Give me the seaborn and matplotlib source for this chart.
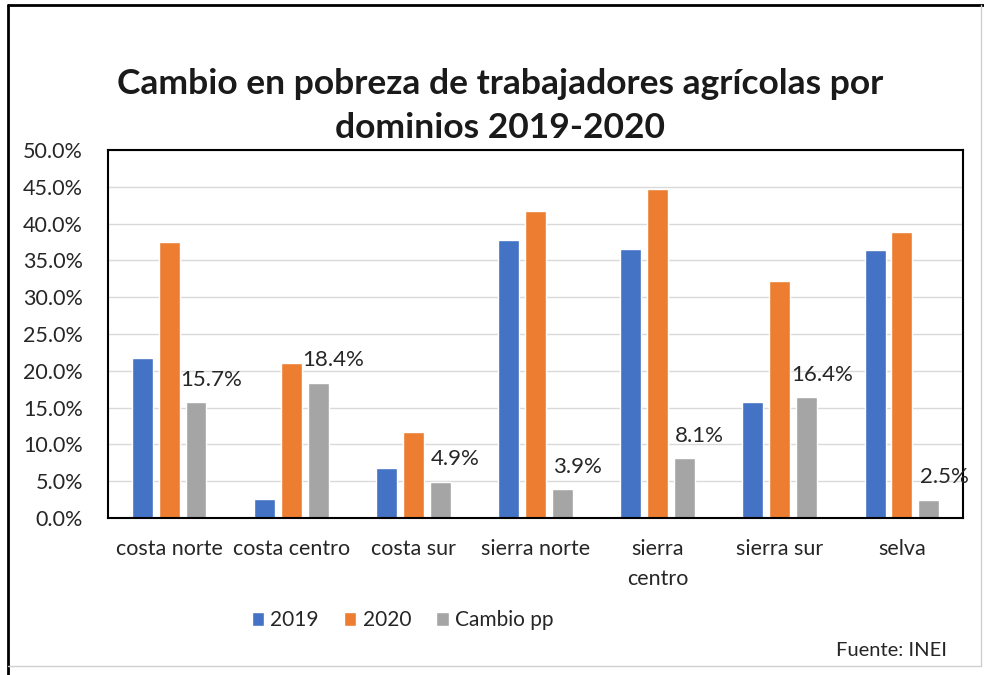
import pandas as pd
import matplotlib.pyplot as plt
import seaborn as sns
from matplotlib.lines import Line2D

# datos (en %)
dominios = ['costa norte', 'costa centro', 'costa sur', 'sierra norte',
            'sierra\ncentro', 'sierra sur', 'selva']
pobreza_2019 = [21.8, 2.6, 6.8, 37.8, 36.6, 15.8, 36.4]
pobreza_2020 = [37.5, 21.0, 11.7, 41.7, 44.7, 32.2, 38.9]
cambio_pp = [15.7, 18.4, 4.9, 3.9, 8.1, 16.4, 2.5]
series = ['2019', '2020', 'Cambio pp']
colores = ['#4472C4', '#ED7D31', '#A5A5A5']
y_ticks = [0, 5, 10, 15, 20, 25, 30, 35, 40, 45, 50]

# tabla larga para seaborn
df = pd.DataFrame({
    'dominio': dominios * 3,
    'valor': pobreza_2019 + pobreza_2020 + cambio_pp,
    'serie': [series[0]] * 7 + [series[1]] * 7 + [series[2]] * 7,
})

sns.set_style('white')
plt.rcParams['font.family'] = ['Lato', 'DejaVu Sans']

fig = plt.figure(figsize=(9.84, 6.75), dpi=100)
ax = fig.add_axes([0.1098, 0.2326, 0.8689, 0.5452])

sns.barplot(data=df, x='dominio', y='valor', hue='serie', palette=colores,
            width=0.66, gap=0.22, ax=ax, saturation=1, legend=True)

ax.set_ylim(0, 50)
ax.set_xlim(-0.5, len(dominios) - 0.5)
ax.set_yticks(y_ticks)
ax.set_yticklabels([f'{t:.1f}%' for t in y_ticks])
ax.yaxis.grid(True, color='#D9D9D9', linewidth=1)
ax.set_axisbelow(True)
ax.set_xlabel('')
ax.set_ylabel('')
ax.tick_params(axis='both', length=0, labelsize=15.5, colors='#262626')
ax.tick_params(axis='y', pad=18)
ax.tick_params(axis='x', pad=15)
for lbl in ax.get_xticklabels():
    lbl.set_linespacing(1.65)
for s in ax.spines.values():
    s.set_visible(True)
    s.set_color('black')
    s.set_linewidth(1.5)

# etiquetas de la serie Cambio pp
gris = ax.containers[2]
for rect, v in zip(gris, cambio_pp):
    ax.annotate(f'{v:.1f}%', (rect.get_x() + rect.get_width() / 2, rect.get_height()),
                xytext=(11, 9), textcoords='offset points', ha='center', va='bottom',
                fontsize=16, color='#262626')

# leyenda abajo
handles, labels = ax.get_legend_handles_labels()
ax.get_legend().remove()
fig.legend(handles, labels, loc='center', bbox_to_anchor=(0.409, 0.081), ncol=3,
           frameon=False, fontsize=15, handlelength=0.6, handleheight=0.6,
           handletextpad=0.3, columnspacing=1.2)

fig.text(0.508, 0.843, 'Cambio en pobreza de trabajadores agrícolas por\ndominios 2019-2020',
         ha='center', va='center', fontsize=25.5, fontweight='bold', linespacing=1.45,
         color='#1a1a1a')
fig.text(0.962, 0.037, 'Fuente: INEI', ha='right', va='center', fontsize=14.5, color='#262626')

# marco exterior del grafico
fig.add_artist(Line2D([0.008, 0.008], [0, 0.993], transform=fig.transFigure, color='black', lw=2))
fig.add_artist(Line2D([0.008, 1], [0.993, 0.993], transform=fig.transFigure, color='black', lw=2))
fig.add_artist(Line2D([0.008, 0.997], [0.013, 0.013], transform=fig.transFigure, color='#D0D0D0', lw=1))
fig.add_artist(Line2D([0.997, 0.997], [0.013, 0.993], transform=fig.transFigure, color='#D0D0D0', lw=1))

fig.savefig('out.png', dpi=100)
